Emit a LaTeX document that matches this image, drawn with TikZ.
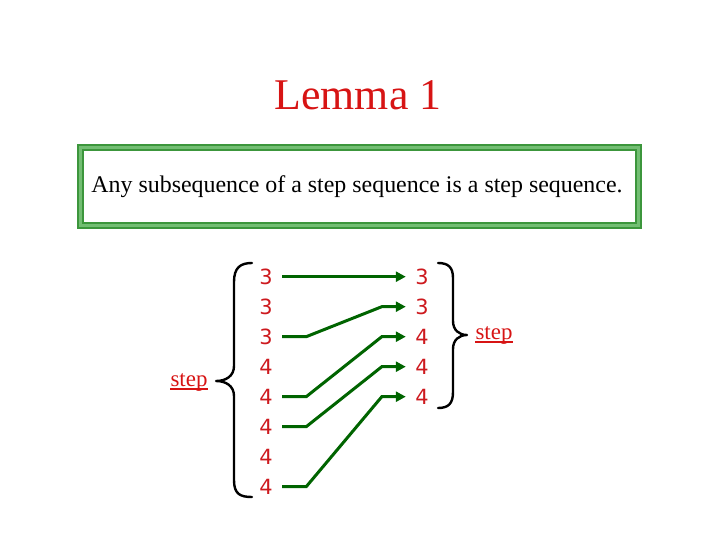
\documentclass[tikz,border=0pt]{standalone}
\usepackage{fontspec}
\setmainfont{Liberation Serif}
\newfontfamily\digitfont{DejaVu Sans}
\usetikzlibrary{arrows.meta,calc}
\definecolor{titlered}{RGB}{215,20,20}
\definecolor{digred}{RGB}{205,25,30}
\definecolor{boxgreen}{RGB}{60,150,60}
\definecolor{boxlight}{RGB}{115,190,115}
\definecolor{conngreen}{RGB}{0,100,0}
\tikzset{
  dig/.style={font=\digitfont\fontsize{21}{21}\selectfont, text=digred, minimum width=32bp, inner sep=0pt, anchor=center},
  steplbl/.style={font=\fontsize{23}{23}\selectfont, text=titlered, inner sep=0pt, anchor=base},
  ul/.style={draw=titlered, line width=1.6bp},
  conn/.style={draw=conngreen, line width=3bp, -{Triangle[length=10bp,width=10bp]}, line join=miter},
  brace/.style={draw=black, line width=2.4bp, line cap=round, line join=round}
}
\begin{document}
\begin{tikzpicture}[x=1bp,y=-1bp]
\useasboundingbox (0,0) rectangle (720,540);
% title
\node[font=\fontsize{44}{44}\selectfont, text=titlered] (title) at (358,95) {Lemma 1};
% box
\draw[boxgreen, line width=7bp] (80.5,147.5) rectangle (638.5,225.5);
\draw[boxlight, line width=2.2bp] (80.5,147.5) rectangle (638.5,225.5);
\node[font=\fontsize{24}{24}\selectfont] (stmt) at (357,187) {Any subsequence of a step sequence is a step sequence.};
% left digits
\foreach \i/\d in {1/3,2/3,3/3,4/4,5/4,6/4,7/4,8/4}{
  \node[dig] (L\i) at (266,{276.7+30*(\i-1)}) {\d};
}
% right digits
\foreach \i/\d in {1/3,2/3,3/4,4/4,5/4}{
  \node[dig] (R\i) at (422,{276.7+30*(\i-1)}) {\d};
}
% connectors
\draw[conn] (L1.east) -- (R1.west);
\draw[conn] (L3.east) -- ++(24,0) -- ([xshift=-24bp]R2.west) -- (R2.west);
\draw[conn] (L5.east) -- ++(24,0) -- ([xshift=-24bp]R3.west) -- (R3.west);
\draw[conn] (L6.east) -- ++(24,0) -- ([xshift=-24bp]R4.west) -- (R4.west);
\draw[conn] (L8.east) -- ++(24,0) -- ([xshift=-24bp]R5.west) -- (R5.west);
% left brace
\draw[brace] (252,263) .. controls (240,263) and (234,268) .. (234,282)
  -- (234,366) .. controls (234,376) and (226,381) .. (216,381)
  .. controls (226,381) and (234,386) .. (234,396)
  -- (234,480) .. controls (234,494) and (240,497) .. (252,497);
% right brace
\draw[brace] (438,263) .. controls (448,263) and (453,267) .. (453,278)
  -- (453,321) .. controls (453,330) and (459,335) .. (467,335)
  .. controls (459,335) and (453,340) .. (453,349)
  -- (453,392) .. controls (453,404) and (448,408) .. (438,408);
% step labels
\node[steplbl] (stepL) at (189,386) {step};
\draw[ul] ([yshift=-3bp]stepL.base west) -- ([yshift=-3bp]stepL.base east);
\node[steplbl] (stepR) at (494,339) {step};
\draw[ul] ([yshift=-3bp]stepR.base west) -- ([yshift=-3bp]stepR.base east);
\end{tikzpicture}
\end{document}
